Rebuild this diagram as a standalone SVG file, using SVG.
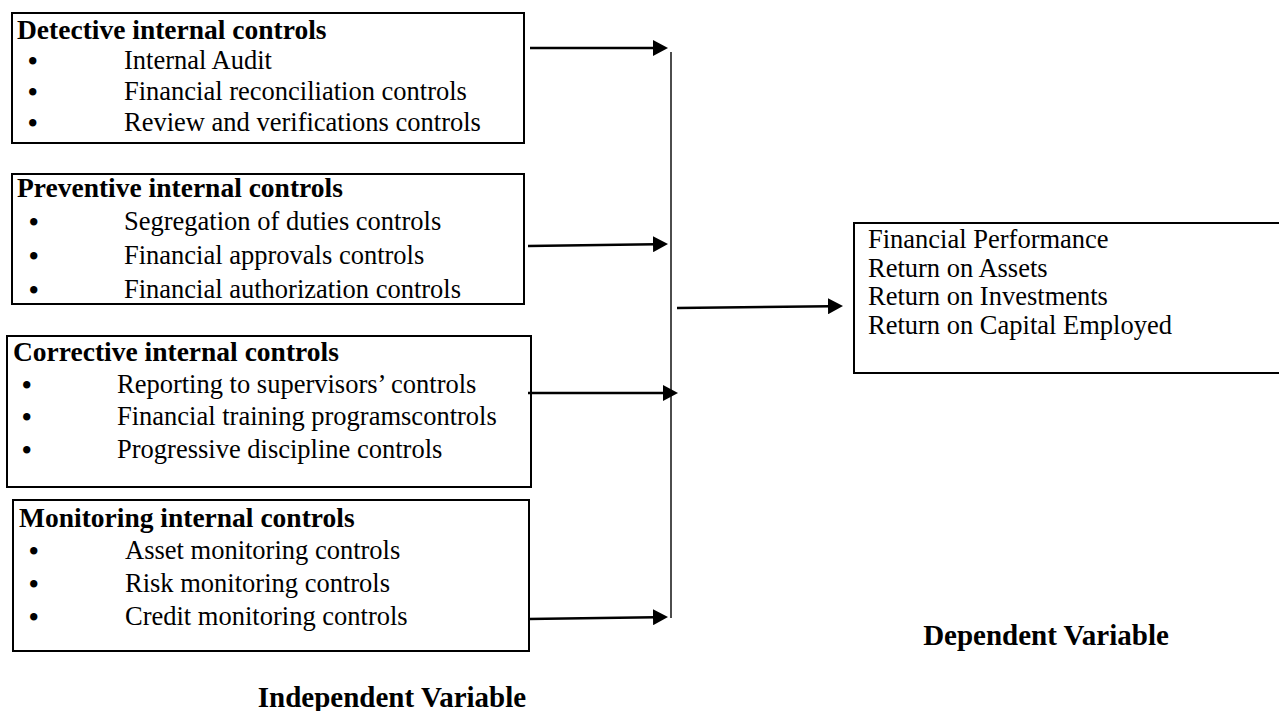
<svg xmlns="http://www.w3.org/2000/svg" width="1279" height="711" viewBox="0 0 1279 711">
<style>
.box{fill:#fff;stroke:#000;stroke-width:2}
.t{font-family:"Liberation Serif","Times New Roman",serif;font-size:26.5px;fill:#000}
.b{font-family:"Liberation Serif","Times New Roman",serif;font-size:27.5px;font-weight:bold;fill:#000}
.lbl{font-family:"Liberation Serif","Times New Roman",serif;font-size:29px;font-weight:bold;fill:#000}
.bul{font-size:27px;font-weight:bold}
.arr{stroke:#000;stroke-width:2.6;fill:none;marker-end:url(#ah)}
.vl{stroke:#000;stroke-width:1.4;fill:none}
</style>
<defs>
<marker id="ah" markerUnits="userSpaceOnUse" markerWidth="16" markerHeight="16" refX="2" refY="8" orient="auto">
<path d="M0,0 L15,8 L0,16 z" fill="#000"/>
</marker>
</defs>
<rect width="1279" height="711" fill="#fff"/>
<g id="detective">
<rect class="box" x="12" y="13" width="512" height="130"/>
<text class="b" x="17" y="38.5">Detective internal controls</text>
<text class="t"><tspan class="bul" x="28" y="70">•</tspan><tspan x="124" y="69">Internal Audit</tspan></text>
<text class="t"><tspan class="bul" x="28" y="101">•</tspan><tspan x="124" y="100">Financial reconciliation controls</tspan></text>
<text class="t"><tspan class="bul" x="28" y="132">•</tspan><tspan x="124" y="131">Review and verifications controls</tspan></text>
</g>
<g id="preventive">
<rect class="box" x="12" y="174" width="512" height="130"/>
<text class="b" x="17" y="197">Preventive internal controls</text>
<text class="t"><tspan class="bul" x="29" y="231">•</tspan><tspan x="124" y="230">Segregation of duties controls</tspan></text>
<text class="t"><tspan class="bul" x="29" y="265">•</tspan><tspan x="124" y="264">Financial approvals controls</tspan></text>
<text class="t"><tspan class="bul" x="29" y="299">•</tspan><tspan x="124" y="298">Financial authorization controls</tspan></text>
</g>
<g id="corrective">
<rect class="box" x="7" y="336" width="524" height="151"/>
<text class="b" x="13" y="361">Corrective internal controls</text>
<text class="t"><tspan class="bul" x="22" y="394">•</tspan><tspan x="117" y="393">Reporting to supervisors’ controls</tspan></text>
<text class="t"><tspan class="bul" x="22" y="426">•</tspan><tspan x="117" y="425">Financial training programscontrols</tspan></text>
<text class="t"><tspan class="bul" x="22" y="459">•</tspan><tspan x="117" y="458">Progressive discipline controls</tspan></text>
</g>
<g id="monitoring">
<rect class="box" x="13" y="500" width="516" height="151"/>
<text class="b" x="19" y="527">Monitoring internal controls</text>
<text class="t"><tspan class="bul" x="29" y="560">•</tspan><tspan x="125" y="559">Asset monitoring controls</tspan></text>
<text class="t"><tspan class="bul" x="29" y="593">•</tspan><tspan x="125" y="592">Risk monitoring controls</tspan></text>
<text class="t"><tspan class="bul" x="29" y="626">•</tspan><tspan x="125" y="625">Credit monitoring controls</tspan></text>
</g>
<g id="performance">
<rect class="box" x="854" y="223" width="430" height="150"/>
<text class="t" x="868" y="248">Financial Performance</text>
<text class="t" x="868" y="276.5">Return on Assets</text>
<text class="t" x="868" y="305">Return on Investments</text>
<text class="t" x="868" y="333.5">Return on Capital Employed</text>
</g>
<g id="connectors">
<line class="vl" x1="671" y1="52" x2="671" y2="618"/>
<line class="arr" x1="530" y1="48" x2="655" y2="48"/>
<line class="arr" x1="528" y1="246" x2="655" y2="244.2"/>
<line class="arr" x1="528" y1="393" x2="665" y2="393"/>
<line class="arr" x1="528" y1="619" x2="655" y2="617.2"/>
<line class="arr" x1="677" y1="308" x2="830" y2="306.2"/>
</g>
<g id="labels">
<text class="lbl" x="1046" y="645" text-anchor="middle">Dependent Variable</text>
<text class="lbl" x="392" y="707" text-anchor="middle">Independent Variable</text>
</g>
</svg>
